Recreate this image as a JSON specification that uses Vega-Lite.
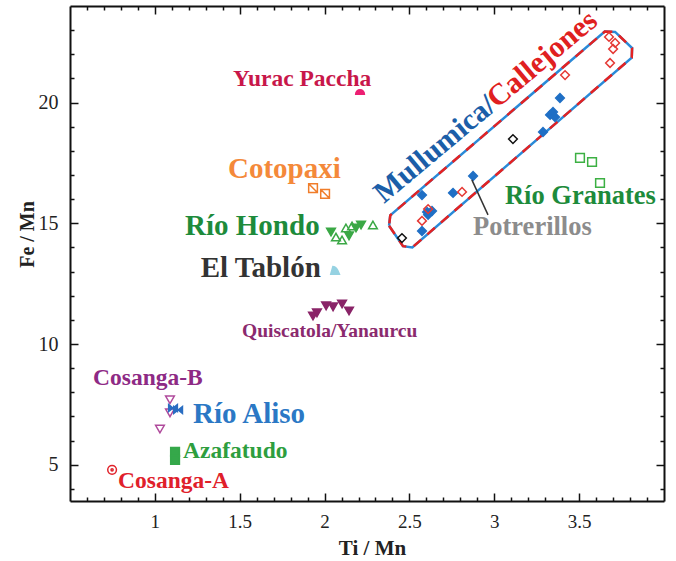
{
  "$schema": "https://vega.github.io/schema/vega-lite/v6.json",
  "width": 594,
  "height": 495,
  "autosize": "none",
  "padding": {"left": 70, "top": 6, "right": 12, "bottom": 60},
  "background": "white",
  "config": {
    "view": {"stroke": null},
    "axis": {
      "labelFont": "Liberation Serif",
      "titleFont": "Liberation Serif",
      "titleFontWeight": "bold",
      "labelColor": "#222",
      "titleColor": "#222",
      "domainColor": "#111",
      "domainWidth": 2,
      "tickColor": "#111",
      "tickWidth": 1.5,
      "grid": false,
      "labelOverlap": false,
      "labelFlush": false,
      "labelBound": false
    },
    "text": {"font": "Liberation Serif", "fontWeight": "bold"}
  },
  "datasets": {
    "pts": [
      {"series": "Mullumica", "x": 2.574, "y": 16.17},
      {"series": "Mullumica", "x": 2.574, "y": 14.68},
      {"series": "Mullumica", "x": 2.604, "y": 15.47},
      {"series": "Mullumica", "x": 2.633, "y": 15.51},
      {"series": "Mullumica", "x": 2.610, "y": 15.35},
      {"series": "Mullumica", "x": 2.757, "y": 16.26},
      {"series": "Mullumica", "x": 2.875, "y": 16.96},
      {"series": "Mullumica", "x": 3.287, "y": 18.78},
      {"series": "Mullumica", "x": 3.329, "y": 19.49},
      {"series": "Mullumica", "x": 3.346, "y": 19.61},
      {"series": "Mullumica", "x": 3.358, "y": 19.40},
      {"series": "Mullumica", "x": 3.387, "y": 20.19},
      {"series": "Callejones", "x": 2.574, "y": 15.10},
      {"series": "Callejones", "x": 2.610, "y": 15.59},
      {"series": "Callejones", "x": 2.810, "y": 16.30},
      {"series": "Callejones", "x": 3.417, "y": 21.14},
      {"series": "Callejones", "x": 3.676, "y": 22.72},
      {"series": "Callejones", "x": 3.712, "y": 22.47},
      {"series": "Callejones", "x": 3.700, "y": 22.22},
      {"series": "Callejones", "x": 3.682, "y": 21.64},
      {"series": "Unknown", "x": 2.456, "y": 14.39},
      {"series": "Unknown", "x": 3.110, "y": 18.49},
      {"series": "Yurac Paccha", "x": 2.209, "y": 20.44},
      {"series": "Cotopaxi", "x": 1.932, "y": 16.46},
      {"series": "Cotopaxi", "x": 2.003, "y": 16.22},
      {"series": "Río Hondo (a)", "x": 2.038, "y": 14.64},
      {"series": "Río Hondo (a)", "x": 2.144, "y": 14.48},
      {"series": "Río Hondo (a)", "x": 2.185, "y": 14.81},
      {"series": "Río Hondo (a)", "x": 2.215, "y": 14.93},
      {"series": "Río Hondo (b)", "x": 2.067, "y": 14.43},
      {"series": "Río Hondo (b)", "x": 2.103, "y": 14.31},
      {"series": "Río Hondo (b)", "x": 2.126, "y": 14.81},
      {"series": "Río Hondo (b)", "x": 2.162, "y": 14.89},
      {"series": "Río Hondo (b)", "x": 2.285, "y": 14.93},
      {"series": "El Tablón", "x": 2.062, "y": 13.07},
      {"series": "Quiscatola/Yanaurcu", "x": 1.932, "y": 11.16},
      {"series": "Quiscatola/Yanaurcu", "x": 1.955, "y": 11.29},
      {"series": "Quiscatola/Yanaurcu", "x": 2.009, "y": 11.58},
      {"series": "Quiscatola/Yanaurcu", "x": 2.050, "y": 11.54},
      {"series": "Quiscatola/Yanaurcu", "x": 2.103, "y": 11.66},
      {"series": "Quiscatola/Yanaurcu", "x": 2.144, "y": 11.37},
      {"series": "Cosanga-B", "x": 1.089, "y": 7.69},
      {"series": "Cosanga-B", "x": 1.089, "y": 7.15},
      {"series": "Cosanga-B", "x": 1.030, "y": 6.48},
      {"series": "Río Aliso", "x": 1.107, "y": 7.35},
      {"series": "Río Aliso", "x": 1.137, "y": 7.27},
      {"series": "Azafatudo", "x": 1.119, "y": 5.53},
      {"series": "Azafatudo", "x": 1.119, "y": 5.20},
      {"series": "Cosanga-A", "x": 0.748, "y": 4.79},
      {"series": "Río Granates", "x": 3.505, "y": 17.71},
      {"series": "Río Granates", "x": 3.576, "y": 17.54},
      {"series": "Río Granates", "x": 3.623, "y": 16.67}
    ],
    "labels": [
      {"label": "Yurac Paccha", "x": 1.461, "y": 20.69},
      {"label": "Cotopaxi", "x": 1.431, "y": 16.88},
      {"label": "Río Hondo", "x": 1.178, "y": 14.52},
      {"label": "El Tablón", "x": 1.270, "y": 12.78},
      {"label": "Quiscatola/Yanaurcu", "x": 1.514, "y": 10.29},
      {"label": "Cosanga-B", "x": 0.636, "y": 8.31},
      {"label": "Río Aliso", "x": 1.225, "y": 6.73},
      {"label": "Azafatudo", "x": 1.166, "y": 5.28},
      {"label": "Cosanga-A", "x": 0.783, "y": 4.04},
      {"label": "Río Granates", "x": 3.063, "y": 15.80},
      {"label": "Potrerillos", "x": 2.875, "y": 14.52},
      {"label": "Mullumica/", "x": 2.350, "y": 15.80},
      {"label": "Callejones", "x": 3.016, "y": 19.73}
    ],
    "box": [
      {"order": 1, "x": 2.380, "y": 14.899},
      {"order": 2, "x": 2.462, "y": 14.054},
      {"order": 3, "x": 2.517, "y": 14.004},
      {"order": 4, "x": 3.810, "y": 21.863},
      {"order": 5, "x": 3.812, "y": 22.257},
      {"order": 6, "x": 3.712, "y": 22.928},
      {"order": 7, "x": 3.651, "y": 22.940},
      {"order": 8, "x": 2.387, "y": 15.329},
      {"order": 9, "x": 2.380, "y": 14.899}
    ],
    "arrow": [
      {"x": 2.963, "y": 15.35, "x2": 2.868, "y2": 16.80}
    ]
  },
  "resolve": {
    "axis": {"x": "independent", "y": "independent"},
    "scale": {"color": "independent", "fill": "independent", "stroke": "independent", "shape": "independent"}
  },
  "layer": [
    {
      "data": {"name": "box"},
      "mark": {"type": "line", "color": "#2a8ad8", "strokeWidth": 2.5},
      "encoding": {
        "x": {"field": "x", "type": "quantitative", "axis": null, "scale": {"domain": [0.5, 4.0], "nice": false, "zero": false}},
        "y": {"field": "y", "type": "quantitative", "axis": null, "scale": {"domain": [3.5, 24], "nice": false, "zero": false}},
        "order": {"field": "order", "type": "quantitative"}
      }
    },
    {
      "data": {"name": "box"},
      "mark": {"type": "line", "color": "#e42222", "strokeWidth": 2.5, "strokeDash": [10, 8]},
      "encoding": {
        "x": {"field": "x", "type": "quantitative", "axis": null},
        "y": {"field": "y", "type": "quantitative", "axis": null},
        "order": {"field": "order", "type": "quantitative"}
      }
    },
    {
      "data": {"name": "pts"},
      "mark": {"type": "point", "size": 76, "strokeWidth": 1.5, "opacity": 1},
      "encoding": {
        "x": {"field": "x", "type": "quantitative", "title": "Ti / Mn",
          "axis": {
            "orient": "bottom",
            "values": [0.6,0.7,0.8,0.9,1.0,1.1,1.2,1.3,1.4,1.5,1.6,1.7,1.8,1.9,2.0,2.1,2.2,2.3,2.4,2.5,2.6,2.7,2.8,2.9,3.0,3.1,3.2,3.3,3.4,3.5,3.6,3.7,3.8,3.9],
            "tickSize": {"condition": {"test": "datum.value % 0.5 === 0", "value": -8}, "value": -4},
            "labelExpr": "datum.value % 0.5 === 0 ? '' + datum.value : ''",
            "labelFontSize": 19,
            "labelPadding": 19,
            "titleFontSize": 21,
            "titleX": 302,
            "titleY": 53,
            "titleBaseline": "alphabetic"
          }},
        "y": {"field": "y", "type": "quantitative", "title": "Fe / Mn",
          "axis": {
            "orient": "left",
            "values": [4,5,6,7,8,9,10,11,12,13,14,15,16,17,18,19,20,21,22,23],
            "tickSize": {"condition": {"test": "datum.value % 5 === 0", "value": -8}, "value": -4},
            "labelExpr": "datum.value % 5 === 0 ? '' + datum.value : ''",
            "labelFontSize": 20,
            "labelPadding": 20,
            "titleFontSize": 20,
            "titleX": -37,
            "titleY": 228,
            "titleAngle": -90,
            "titleAlign": "center",
            "titleBaseline": "alphabetic"
          }},
        "shape": {"field": "series", "type": "nominal", "legend": null,
          "scale": {
            "domain": ["Mullumica", "Callejones", "Unknown", "Yurac Paccha", "Cotopaxi", "Río Hondo (a)", "Río Hondo (b)", "El Tablón", "Quiscatola/Yanaurcu", "Cosanga-B", "Río Aliso", "Azafatudo", "Cosanga-A", "Río Granates"],
            "range": ["diamond", "diamond", "diamond", "M-1,0.5A1,1 0 0,1 1,0.5Z", "M-1,-1H1V1H-1Z M-1,-1L1,1", "triangle-down", "triangle-up", "M-1,1L-0.5,-0.8Q0.4,-0.8 1,1Z", "triangle-down", "triangle-down", "M-1,-0.8L-1,0.8L1,-0.8L1,0.8Z", "square", "M-1,0A1,1 0 1,0 1,0A1,1 0 1,0 -1,0Z M-0.25,0A0.25,0.25 0 1,0 0.25,0A0.25,0.25 0 1,0 -0.25,0Z", "square"]
          }},
        "fill": {"field": "series", "type": "nominal", "legend": null,
          "scale": {
            "domain": ["Mullumica", "Callejones", "Unknown", "Yurac Paccha", "Cotopaxi", "Río Hondo (a)", "Río Hondo (b)", "El Tablón", "Quiscatola/Yanaurcu", "Cosanga-B", "Río Aliso", "Azafatudo", "Cosanga-A", "Río Granates"],
            "range": ["#1f6fc5", "transparent", "transparent", "#ec1f72", "transparent", "#3aa845", "transparent", "#96d2e2", "#8a2468", "transparent", "#2a6ec2", "#35a84a", "transparent", "transparent"]
          }},
        "stroke": {"field": "series", "type": "nominal", "legend": null,
          "scale": {
            "domain": ["Mullumica", "Callejones", "Unknown", "Yurac Paccha", "Cotopaxi", "Río Hondo (a)", "Río Hondo (b)", "El Tablón", "Quiscatola/Yanaurcu", "Cosanga-B", "Río Aliso", "Azafatudo", "Cosanga-A", "Río Granates"],
            "range": ["#1f6fc5", "#e53935", "#111111", "#ec1f72", "#f07d2a", "#3aa845", "#3aa845", "#96d2e2", "#8a2468", "#b04a9c", "#2a6ec2", "#35a84a", "#e0232b", "#3cb043"]
          }}
      }
    },
    {
      "data": {"name": "arrow"},
      "mark": {"type": "rule", "color": "#333333", "strokeWidth": 1.5},
      "encoding": {
        "x": {"field": "x", "type": "quantitative", "title": null,
          "axis": {
            "orient": "top",
            "values": [0.6,0.7,0.8,0.9,1.0,1.1,1.2,1.3,1.4,1.5,1.6,1.7,1.8,1.9,2.0,2.1,2.2,2.3,2.4,2.5,2.6,2.7,2.8,2.9,3.0,3.1,3.2,3.3,3.4,3.5,3.6,3.7,3.8,3.9],
            "tickSize": {"condition": {"test": "datum.value % 0.5 === 0", "value": -8}, "value": -4},
            "labels": false
          }},
        "y": {"field": "y", "type": "quantitative", "title": null,
          "axis": {
            "orient": "right",
            "values": [4,5,6,7,8,9,10,11,12,13,14,15,16,17,18,19,20,21,22,23],
            "tickSize": {"condition": {"test": "datum.value % 5 === 0", "value": -8}, "value": -4},
            "labels": false
          }},
        "x2": {"field": "x2"},
        "y2": {"field": "y2"}
      }
    },
    {
      "data": {"name": "labels"},
      "transform": [{"filter": {"field": "label", "oneOf": ["Cotopaxi", "Río Hondo", "El Tablón", "Río Aliso"]}}],
      "mark": {"type": "text", "fontSize": 29, "align": "left", "baseline": "alphabetic"},
      "encoding": {
        "x": {"field": "x", "type": "quantitative", "axis": null},
        "y": {"field": "y", "type": "quantitative", "axis": null},
        "text": {"field": "label"},
        "color": {"field": "label", "type": "nominal", "legend": null,
          "scale": {"domain": ["Yurac Paccha", "Cotopaxi", "Río Hondo", "El Tablón", "Quiscatola/Yanaurcu", "Cosanga-B", "Río Aliso", "Azafatudo", "Cosanga-A", "Río Granates", "Potrerillos", "Mullumica/", "Callejones"],
            "range": ["#c8174a", "#f4893a", "#1d8b3b", "#333333", "#8b2a6e", "#8e2a85", "#2b78c5", "#2e9e3e", "#e0202a", "#1d8b3b", "#8c8c8c", "#1b5ea8", "#e02020"]}}
      }
    },
    {
      "data": {"name": "labels"},
      "transform": [{"filter": {"field": "label", "oneOf": ["Río Granates", "Potrerillos"]}}],
      "mark": {"type": "text", "fontSize": 26.5, "align": "left", "baseline": "alphabetic"},
      "encoding": {
        "x": {"field": "x", "type": "quantitative", "axis": null},
        "y": {"field": "y", "type": "quantitative", "axis": null},
        "text": {"field": "label"},
        "color": {"field": "label", "type": "nominal", "legend": null,
          "scale": {"domain": ["Yurac Paccha", "Cotopaxi", "Río Hondo", "El Tablón", "Quiscatola/Yanaurcu", "Cosanga-B", "Río Aliso", "Azafatudo", "Cosanga-A", "Río Granates", "Potrerillos", "Mullumica/", "Callejones"],
            "range": ["#c8174a", "#f4893a", "#1d8b3b", "#333333", "#8b2a6e", "#8e2a85", "#2b78c5", "#2e9e3e", "#e0202a", "#1d8b3b", "#8c8c8c", "#1b5ea8", "#e02020"]}}
      }
    },
    {
      "data": {"name": "labels"},
      "transform": [{"filter": {"field": "label", "oneOf": ["Yurac Paccha", "Cosanga-B", "Azafatudo", "Cosanga-A"]}}],
      "mark": {"type": "text", "fontSize": 23.5, "align": "left", "baseline": "alphabetic"},
      "encoding": {
        "x": {"field": "x", "type": "quantitative", "axis": null},
        "y": {"field": "y", "type": "quantitative", "axis": null},
        "text": {"field": "label"},
        "color": {"field": "label", "type": "nominal", "legend": null,
          "scale": {"domain": ["Yurac Paccha", "Cotopaxi", "Río Hondo", "El Tablón", "Quiscatola/Yanaurcu", "Cosanga-B", "Río Aliso", "Azafatudo", "Cosanga-A", "Río Granates", "Potrerillos", "Mullumica/", "Callejones"],
            "range": ["#c8174a", "#f4893a", "#1d8b3b", "#333333", "#8b2a6e", "#8e2a85", "#2b78c5", "#2e9e3e", "#e0202a", "#1d8b3b", "#8c8c8c", "#1b5ea8", "#e02020"]}}
      }
    },
    {
      "data": {"name": "labels"},
      "transform": [{"filter": {"field": "label", "oneOf": ["Quiscatola/Yanaurcu"]}}],
      "mark": {"type": "text", "fontSize": 19.5, "align": "left", "baseline": "alphabetic"},
      "encoding": {
        "x": {"field": "x", "type": "quantitative", "axis": null},
        "y": {"field": "y", "type": "quantitative", "axis": null},
        "text": {"field": "label"},
        "color": {"field": "label", "type": "nominal", "legend": null,
          "scale": {"domain": ["Yurac Paccha", "Cotopaxi", "Río Hondo", "El Tablón", "Quiscatola/Yanaurcu", "Cosanga-B", "Río Aliso", "Azafatudo", "Cosanga-A", "Río Granates", "Potrerillos", "Mullumica/", "Callejones"],
            "range": ["#c8174a", "#f4893a", "#1d8b3b", "#333333", "#8b2a6e", "#8e2a85", "#2b78c5", "#2e9e3e", "#e0202a", "#1d8b3b", "#8c8c8c", "#1b5ea8", "#e02020"]}}
      }
    },
    {
      "data": {"name": "labels"},
      "transform": [{"filter": {"field": "label", "oneOf": ["Mullumica/", "Callejones"]}}],
      "mark": {"type": "text", "fontSize": 30, "angle": -40, "align": "left", "baseline": "alphabetic"},
      "encoding": {
        "x": {"field": "x", "type": "quantitative", "axis": null},
        "y": {"field": "y", "type": "quantitative", "axis": null},
        "text": {"field": "label"},
        "color": {"field": "label", "type": "nominal", "legend": null,
          "scale": {"domain": ["Yurac Paccha", "Cotopaxi", "Río Hondo", "El Tablón", "Quiscatola/Yanaurcu", "Cosanga-B", "Río Aliso", "Azafatudo", "Cosanga-A", "Río Granates", "Potrerillos", "Mullumica/", "Callejones"],
            "range": ["#c8174a", "#f4893a", "#1d8b3b", "#333333", "#8b2a6e", "#8e2a85", "#2b78c5", "#2e9e3e", "#e0202a", "#1d8b3b", "#8c8c8c", "#1b5ea8", "#e02020"]}}
      }
    }
  ]
}
